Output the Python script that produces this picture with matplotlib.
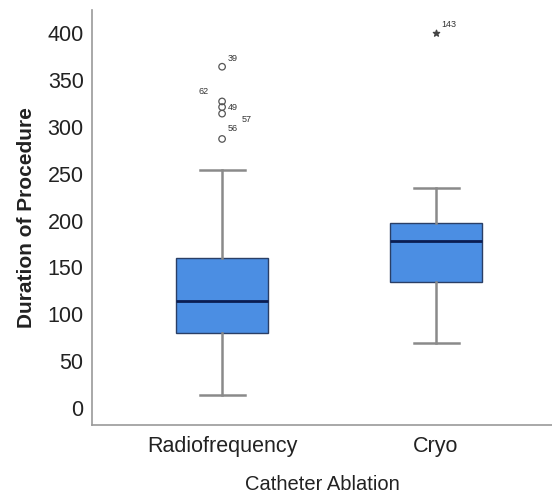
import matplotlib.pyplot as plt

plt.rcParams['font.family'] = ['Liberation Sans', 'DejaVu Sans']

# Box summary values
groups = ['Radiofrequency', 'Cryo']
q1 = [80, 134]
medians = [114, 178]
q3 = [160, 197]
whisker_lo = [14, 69]
whisker_hi = [254, 235]

# Outliers and their case labels
rf_outliers = [364, 327, 321, 314, 287]
rf_ids = ['39', '62', '49', '57', '56']
cryo_extremes = [400]
cryo_ids = ['143']

stats = []
for i, g in enumerate(groups):
    stats.append(dict(label=g, q1=q1[i], med=medians[i], q3=q3[i],
                      whislo=whisker_lo[i], whishi=whisker_hi[i], fliers=[]))

fig = plt.figure(figsize=(5.52, 4.96), dpi=100)
ax = fig.add_axes([92/552, 71/496, 1 - 92/552, 415/496])

ax.bxp(stats, positions=[1, 2], widths=0.43, patch_artist=True,
       showfliers=False,
       boxprops=dict(facecolor='#4b8ee3', edgecolor='#2a3f66', linewidth=1.0),
       medianprops=dict(color='#0b1d52', linewidth=2.0),
       whiskerprops=dict(color='#8a8a8a', linewidth=1.8),
       capprops=dict(color='#8a8a8a', linewidth=1.8),
       capwidths=0.21)

# outliers (circles) with case numbers
ax.scatter([1] * len(rf_outliers), rf_outliers, s=22, facecolors='none',
           edgecolors='#555555', linewidths=0.9, zorder=3)
offsets = [(4, 4), (-17, 5), (4, -2), (14, -6), (4, 6)]
for v, lab, off in zip(rf_outliers, rf_ids, offsets):
    ax.annotate(lab, (1, v), xytext=off, textcoords='offset points',
                fontsize=6.5, color='#333333')

ax.scatter([2] * len(cryo_extremes), cryo_extremes, marker='*', s=22,
           color='#444444', zorder=3)
for v, lab in zip(cryo_extremes, cryo_ids):
    ax.annotate(lab, (2, v), xytext=(4, 4), textcoords='offset points',
                fontsize=6.5, color='#333333')

ax.set_xlim(0.392, 2.542)
ax.set_ylim(-18, 424.5)
ax.set_yticks(range(0, 401, 50))
ax.set_xticks([1, 2])
ax.set_xticklabels(groups)
ax.tick_params(axis='both', length=0, labelsize=15.5, colors='#222222')
ax.tick_params(axis='y', pad=6)
ax.tick_params(axis='x', pad=8)

for s in ['top', 'right']:
    ax.spines[s].set_visible(False)
for s in ['left', 'bottom']:
    ax.spines[s].set_color('#999999')
    ax.spines[s].set_linewidth(1.2)

ax.set_xlabel('Catheter Ablation', fontsize=14.5, color='#222222', labelpad=13)
ax.set_ylabel('Duration of Procedure', fontsize=15, fontweight='bold',
              color='#222222', labelpad=8)

fig.savefig('out.png', dpi=100)
